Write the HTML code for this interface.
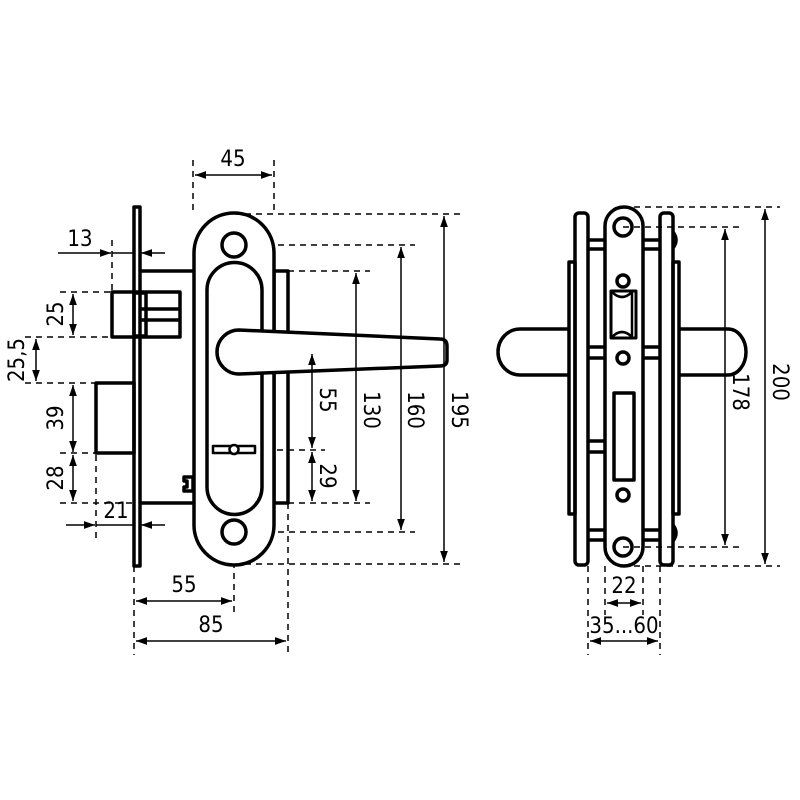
<!DOCTYPE html>
<html><head><meta charset="utf-8"><style>
html,body{margin:0;padding:0;background:#fff;}
svg{display:block}
text{font-family:"DejaVu Sans Condensed","Liberation Sans",sans-serif;font-size:22px;fill:#000}
</style></head><body>
<svg width="800" height="800" viewBox="0 0 800 800" xmlns="http://www.w3.org/2000/svg">
<defs>
<marker id="a" viewBox="0 0 10 10" refX="10" refY="5" markerWidth="11" markerHeight="11" markerUnits="userSpaceOnUse" orient="auto-start-reverse"><path d="M0,1.5 L10,5 L0,8.5z" fill="#000"/></marker>
</defs>
<g fill="none" stroke="#000" stroke-width="1.5" stroke-dasharray="6,5">
<line x1="193" y1="160" x2="193" y2="215"/><line x1="274" y1="160" x2="274" y2="215"/>
<line x1="112" y1="240" x2="112" y2="290"/>
<line x1="60" y1="292" x2="112" y2="292"/><line x1="25" y1="337" x2="112" y2="337"/>
<line x1="25" y1="383" x2="96" y2="383"/><line x1="60" y1="453" x2="96" y2="453"/>
<line x1="60" y1="503" x2="134" y2="503"/><line x1="96" y1="455" x2="96" y2="540"/>
<line x1="234" y1="214" x2="460" y2="214"/><line x1="234" y1="245" x2="415" y2="245"/>
<line x1="288" y1="271" x2="370" y2="271"/><line x1="250" y1="352" x2="325" y2="352"/>
<line x1="255" y1="450" x2="325" y2="450"/><line x1="288" y1="503" x2="370" y2="503"/>
<line x1="234" y1="532" x2="415" y2="532"/><line x1="234" y1="564" x2="460" y2="564"/>
<line x1="134" y1="566" x2="134" y2="655"/><line x1="234" y1="540" x2="234" y2="615"/>
<line x1="288" y1="503" x2="288" y2="655"/>
<line x1="234" y1="233" x2="234" y2="257"/><line x1="262" y1="340" x2="262" y2="366"/>
<line x1="623" y1="207" x2="780" y2="207"/><line x1="623" y1="227" x2="740" y2="227"/>
<line x1="623" y1="547" x2="740" y2="547"/><line x1="623" y1="566" x2="780" y2="566"/>
<line x1="588" y1="566" x2="588" y2="655"/><line x1="605" y1="566" x2="605" y2="615"/>
<line x1="643" y1="566" x2="643" y2="615"/><line x1="660" y1="566" x2="660" y2="655"/>
</g>
<g fill="none" stroke="#000" stroke-width="3.5" stroke-linejoin="round">
<rect x="134" y="207" width="6" height="359"/>
<polyline points="140,271 194,271"/><polyline points="140,503 194,503"/>
<rect x="112" y="292" width="68" height="45"/><line x1="140" y1="309" x2="180" y2="309"/><line x1="140" y1="320" x2="180" y2="320"/>
<rect x="134" y="293" width="12" height="43"/>
<rect x="96" y="383" width="38" height="70"/>
<path d="M184,477 h9 v14 h-9 v-4 h3 v-6 h-3z"/>
<rect x="274" y="271" width="14" height="232"/>
<path d="M194,253 A40,40 0 0 1 274,253 V525 A40,40 0 0 1 194,525 Z" fill="#fff"/>
<path d="M207,290 A27.5,27.5 0 0 1 262,290 V487 A27.5,27.5 0 0 1 207,487 Z"/>
<circle cx="234" cy="245" r="12"/><circle cx="234" cy="532" r="12"/>
<path d="M239,330 L440,339 Q447,339 447,346 L447,360 Q447,366 440,366 L239,374 A22,22 0 0 1 239,330 Z" fill="#fff"/>
<rect x="213" y="446" width="42" height="7" stroke-width="2.5"/><circle cx="234" cy="449.5" r="4.5" fill="#fff" stroke-width="2.5"/>
<path d="M569,329 H520 A22,23 0 0 0 520,375 H569"/>
<path d="M679,329 H728 A18,23 0 0 1 728,375 H679"/>
<rect x="569" y="262" width="6" height="252"/><rect x="673" y="262" width="6" height="252"/>
<path d="M673,232 q6,8 0,16 M673,525 q6,8 0,16"/>
<rect x="575" y="213" width="13" height="352" rx="4"/><rect x="660" y="213" width="13" height="352" rx="4"/>
<line x1="588" y1="240" x2="605" y2="240"/><line x1="588" y1="249" x2="605" y2="249"/>
<line x1="643" y1="240" x2="660" y2="240"/><line x1="643" y1="249" x2="660" y2="249"/>
<line x1="588" y1="347" x2="605" y2="347"/><line x1="588" y1="358" x2="605" y2="358"/>
<line x1="643" y1="347" x2="660" y2="347"/><line x1="643" y1="358" x2="660" y2="358"/>
<line x1="588" y1="441" x2="605" y2="441"/><line x1="588" y1="452" x2="605" y2="452"/>
<line x1="588" y1="530" x2="605" y2="530"/><line x1="588" y1="540" x2="605" y2="540"/>
<line x1="643" y1="530" x2="660" y2="530"/><line x1="643" y1="540" x2="660" y2="540"/>
<rect x="605" y="207" width="38" height="359" rx="19"/>
<circle cx="623" cy="227" r="9"/><circle cx="623" cy="281" r="6"/><circle cx="623" cy="358" r="6"/>
<circle cx="623" cy="495" r="6"/><circle cx="623" cy="547" r="9"/>
<rect x="611" y="291" width="25" height="47" stroke-width="3"/>
<path d="M612,292 Q622,302 632,292 M612,337 Q622,327 632,337 M632,292 V337" stroke-width="2.5"/>
<rect x="614" y="393" width="20" height="87"/>
</g>
<g stroke="#000" stroke-width="1.5" fill="none">
<line x1="195" y1="175" x2="272" y2="175" marker-start="url(#a)" marker-end="url(#a)"/>
<line x1="58" y1="253" x2="111" y2="253" marker-end="url(#a)"/><line x1="165" y1="253" x2="141" y2="253" marker-end="url(#a)"/><line x1="112" y1="253" x2="134" y2="253"/>
<line x1="73" y1="294" x2="73" y2="335" marker-start="url(#a)" marker-end="url(#a)"/>
<line x1="36" y1="339" x2="36" y2="381" marker-start="url(#a)" marker-end="url(#a)"/>
<line x1="73" y1="385" x2="73" y2="452" marker-start="url(#a)" marker-end="url(#a)"/>
<line x1="73" y1="455" x2="73" y2="501" marker-start="url(#a)" marker-end="url(#a)"/>
<line x1="66" y1="525" x2="95" y2="525" marker-end="url(#a)"/><line x1="165" y1="525" x2="141" y2="525" marker-end="url(#a)"/><line x1="96" y1="525" x2="134" y2="525"/>
<line x1="136" y1="601" x2="232" y2="601" marker-start="url(#a)" marker-end="url(#a)"/>
<line x1="136" y1="641" x2="286" y2="641" marker-start="url(#a)" marker-end="url(#a)"/>
<line x1="312" y1="354" x2="312" y2="448" marker-start="url(#a)" marker-end="url(#a)"/>
<line x1="312" y1="452" x2="312" y2="501" marker-start="url(#a)" marker-end="url(#a)"/>
<line x1="356" y1="273" x2="356" y2="501" marker-start="url(#a)" marker-end="url(#a)"/>
<line x1="401" y1="247" x2="401" y2="530" marker-start="url(#a)" marker-end="url(#a)"/>
<line x1="444" y1="216" x2="444" y2="562" marker-start="url(#a)" marker-end="url(#a)"/>
<line x1="725" y1="229" x2="725" y2="545" marker-start="url(#a)" marker-end="url(#a)"/>
<line x1="765" y1="209" x2="765" y2="564" marker-start="url(#a)" marker-end="url(#a)"/>
<line x1="607" y1="603" x2="641" y2="603" marker-start="url(#a)" marker-end="url(#a)"/>
<line x1="590" y1="641" x2="658" y2="641" marker-start="url(#a)" marker-end="url(#a)"/>
</g>
<g>
<text x="233" y="166" text-anchor="middle">45</text>
<text x="80" y="246" text-anchor="middle">13</text>
<text transform="translate(63,314) rotate(-90)" text-anchor="middle">25</text>
<text transform="translate(24,360) rotate(-90)" text-anchor="middle">25,5</text>
<text transform="translate(63,418) rotate(-90)" text-anchor="middle">39</text>
<text transform="translate(63,478) rotate(-90)" text-anchor="middle">28</text>
<text x="116" y="518" text-anchor="middle">21</text>
<text x="184" y="592" text-anchor="middle">55</text>
<text x="211" y="632" text-anchor="middle">85</text>
<text transform="translate(320,400) rotate(90)" text-anchor="middle">55</text>
<text transform="translate(320,476) rotate(90)" text-anchor="middle">29</text>
<text transform="translate(364,410) rotate(90)" text-anchor="middle">130</text>
<text transform="translate(408,410) rotate(90)" text-anchor="middle">160</text>
<text transform="translate(452,410) rotate(90)" text-anchor="middle">195</text>
<text transform="translate(733,392) rotate(90)" text-anchor="middle">178</text>
<text transform="translate(773,382) rotate(90)" text-anchor="middle">200</text>
<text x="624" y="593" text-anchor="middle">22</text>
<text x="624" y="633" text-anchor="middle">35...60</text>
</g>
</svg>
</body></html>
